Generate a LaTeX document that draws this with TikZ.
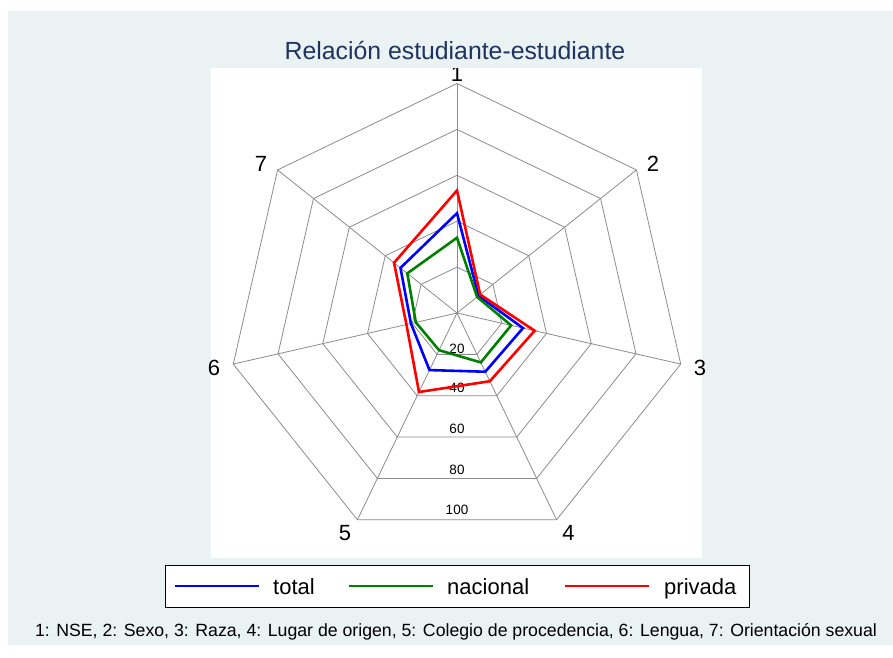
\documentclass[tikz,border=0pt]{standalone}
\usepackage{fontspec}
\setmainfont{Liberation Sans}
\usepackage{tikz}
\usetikzlibrary{calc,positioning}
\definecolor{plotbg}{RGB}{234,242,243}
\definecolor{titlenavy}{RGB}{30,52,95}
\definecolor{gridgray}{RGB}{140,140,140}
\definecolor{serblue}{RGB}{0,0,255}
\definecolor{sergreen}{RGB}{0,128,0}
\definecolor{serred}{RGB}{255,0,0}
\tikzset{
    gridline/.style={draw=gridgray, line width=0.8pt},
    series/.style={line width=2.6pt, line join=miter},
    axislabel/.style={font=\fontsize{22}{22}\selectfont, inner sep=0pt},
    ringlabel/.style={font=\fontsize{13.5}{13.5}\selectfont, inner sep=0pt},
    legendtext/.style={font=\fontsize{22}{22}\selectfont, inner sep=0pt, anchor=base west}
}

\begin{document}
\begin{tikzpicture}[x=1pt,y=-1pt]
    \useasboundingbox (0,0) rectangle (893,657);
    \fill[plotbg] (8,11) rectangle (893,645);
    \fill[white] (211,68) rectangle (702,558);

    \coordinate (c) at (457,313);
    \def\u{2.295}

    % grid
    \foreach \r in {20,40,...,100}
        \foreach \k in {1,...,7}
            \coordinate (g\r-\k) at ($(c)+({(\k-1)*360/7-90}:\r*\u)$);
    \foreach \r in {20,40,...,100}
        \draw[gridline] (g\r-1) -- (g\r-2) -- (g\r-3) -- (g\r-4) -- (g\r-5) -- (g\r-6) -- (g\r-7) -- cycle;
    \foreach \k in {1,...,7}
        \draw[gridline] (c) -- (g100-\k);

    \foreach \r/\y in {20/348.7,40/388.3,60/429.3,80/470,100/510}
        \node[ringlabel] (rl\r) at (457,\y) {\r};

    % series
    \foreach \v [count=\k] in {43.5,12,29.5,28.4,27.6,20.6,31.5}
        \coordinate (tot\k) at ($(c)+({(\k-1)*360/7-90}:\v*\u)$);
    \foreach \v [count=\k] in {32.8,11.2,24.2,23.9,18,18.4,27.7}
        \coordinate (nac\k) at ($(c)+({(\k-1)*360/7-90}:\v*\u)$);
    \foreach \v [count=\k] in {53.4,12.9,34.7,33,38.2,22.6,35.1}
        \coordinate (pri\k) at ($(c)+({(\k-1)*360/7-90}:\v*\u)$);

    \draw[series, serblue] (tot1) -- (tot2) -- (tot3) -- (tot4) -- (tot5) -- (tot6) -- (tot7) -- cycle;
    \draw[series, sergreen] (nac1) -- (nac2) -- (nac3) -- (nac4) -- (nac5) -- (nac6) -- (nac7) -- cycle;
    \draw[series, serred] (pri1) -- (pri2) -- (pri3) -- (pri4) -- (pri5) -- (pri6) -- (pri7) -- cycle;

    % axis labels
    \begin{scope}
        \clip (211,68) rectangle (702,558);
        \node[axislabel] (ax1) at (457,74) {1};
    \end{scope}
    \node[axislabel] (ax2) at (653,164) {2};
    \node[axislabel] (ax3) at (700,368) {3};
    \node[axislabel] (ax4) at (568.5,533) {4};
    \node[axislabel] (ax5) at (345,533) {5};
    \node[axislabel] (ax6) at (214,368) {6};
    \node[axislabel] (ax7) at (261,164) {7};

    \node[font=\fontsize{24.8}{24.8}\selectfont, text=titlenavy, anchor=base, inner sep=0pt]
        (title) at (455,59.3) {Relación estudiante-estudiante};

    % legend
    \node[draw=black, line width=0.8pt, fill=white, minimum width=584pt, minimum height=42pt, inner sep=0pt]
        (legend) at (457,586) {};
    \coordinate (ltot) at (175,586);
    \coordinate (lnac) at (349,586);
    \coordinate (lpri) at (565,586);
    \draw[series, serblue] (ltot) -- ++(84,0);
    \draw[series, sergreen] (lnac) -- ++(84,0);
    \draw[series, serred] (lpri) -- ++(84,0);
    \node[legendtext] (ttot) at (273,594) {total};
    \node[legendtext] (tnac) at (447,594) {nacional};
    \node[legendtext] (tpri) at (664,594) {privada};

    \node[font=\fontsize{17.7}{17.7}\selectfont, anchor=base, inner sep=0pt] (caption) at (456,636)
        {1: NSE, 2: Sexo, 3: Raza, 4: Lugar de origen, 5: Colegio de procedencia, 6: Lengua, 7: Orientación sexual};
\end{tikzpicture}
\end{document}
